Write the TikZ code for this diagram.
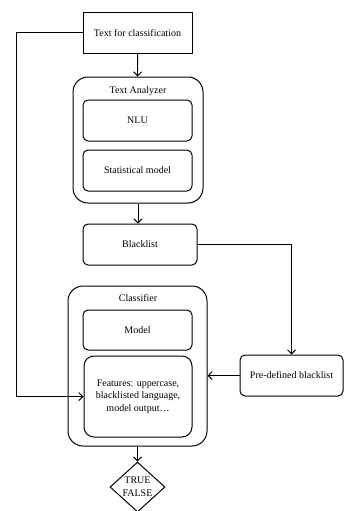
\documentclass[tikz,border=0pt]{standalone}
\usepackage{fontspec}
\setmainfont{Liberation Serif}
\usepackage{tikz}
\usetikzlibrary{positioning}
\usetikzlibrary{arrows.meta}
\usetikzlibrary{math}
\usetikzlibrary{calc}
\usetikzlibrary{shapes.geometric}

\tikzset{
  box/.style={draw, rectangle, minimum width=109pt, minimum height=41pt,
    inner sep=2pt, align=center},
  roundbox/.style={box, rounded corners=5pt},
  outerbox/.style={draw, rectangle, rounded corners=15pt, inner sep=0pt},
  decision/.style={draw, diamond, aspect=1.1, inner sep=0pt, align=center,
    minimum width=55pt, minimum height=50pt},
}

\begin{document}
\begin{tikzpicture}[x=1pt,y=-1pt,line width=1pt,
  >={Straight Barb[length=4pt,width=8pt]},
  font=\fontsize{10}{12.7}\selectfont]

  \tikzmath{
    \flowx  = 137.5; % centre line of the flow
    \leftx  = 16;    % x of the feedback line
  }

  \useasboundingbox (0,0) rectangle (344,511);

  % Input
  \node[box] (input) at (\flowx,33) {Text for classification};

  % Text analyzer and its parts
  \node[outerbox, minimum width=130pt, minimum height=126pt] (analyzer) at (138,140) {};
  \node (analyzertitle) at (138,91) {Text Analyzer};
  \node[roundbox] (nlu) at (\flowx,120.5) {NLU};
  \node[roundbox] (stat) at (\flowx,170.5) {Statistical model};

  % Blacklists
  \node[roundbox, minimum width=114pt] (blacklist) at (140,244.5) {Blacklist};
  \node[roundbox, minimum width=103pt] (predef) at (291.5,375.5) {Pre-defined blacklist};

  % Classifier and its parts
  \node[outerbox, minimum width=139pt, minimum height=160pt] (classifier) at (\flowx,366) {};
  \node (classifiertitle) at (138,298) {Classifier};
  \node[roundbox, minimum height=40pt] (model) at (\flowx,330) {Model};
  \node[roundbox, rounded corners=10pt, minimum width=108pt, minimum height=81pt]
    (features) at (138,396.5) {Features: uppercase,\\blacklisted language,\\model output\ldots};

  % Result
  \node[decision] (result) at (\flowx,487) {TRUE\\FALSE};

  % connectors
  \coordinate (bend) at (\leftx,33);
  \draw[->] (input) -- (analyzer);
  \draw[->] (analyzer.south) -- (analyzer.south |- blacklist.north);
  \draw[->] (blacklist.east) -| (predef.north);
  \draw[->] (predef.west) -- (predef.west -| classifier.east);
  \draw[->] (input.west) -- (bend) |- (features.west);
  \draw[->] (classifier) -- (result);

\end{tikzpicture}
\end{document}
